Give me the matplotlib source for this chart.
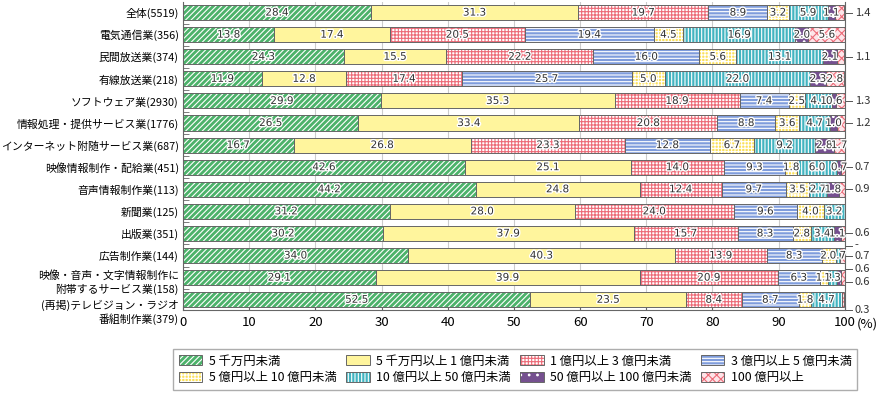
import numpy as np
import matplotlib.pyplot as plt
import matplotlib.patheffects as pe
import matplotlib.transforms as mtransforms
from matplotlib.patches import Patch

plt.rcParams['font.family'] = ['Noto Sans CJK JP', 'DejaVu Sans']
plt.rcParams['hatch.linewidth'] = 0.8

categories = ['全体(5519)', '電気通信業(356)', '民間放送業(374)', '有線放送業(218)',
              'ソフトウェア業(2930)', '情報処理・提供サービス業(1776)',
              'インターネット附随サービス業(687)', '映像情報制作・配給業(451)',
              '音声情報制作業(113)', '新聞業(125)', '出版業(351)', '広告制作業(144)',
              '映像・音声・文字情報制作に\n附帯するサービス業(158)',
              '(再掲)テレビジョン・ラジオ\n番組制作業(379)']

series_names = ['5 千万円未満', '5 千万円以上 1 億円未満', '1 億円以上 3 億円未満', '3 億円以上 5 億円未満',
                '5 億円以上 10 億円未満', '10 億円以上 50 億円未満', '50 億円以上 100 億円未満', '100 億円以上']

lt_05 = [28.4, 13.8, 24.3, 11.9, 29.9, 26.5, 16.7, 42.6, 44.2, 31.2, 30.2, 34.0, 29.1, 52.5]
b05_1 = [31.3, 17.4, 15.5, 12.8, 35.3, 33.4, 26.8, 25.1, 24.8, 28.0, 37.9, 40.3, 39.9, 23.5]
b1_3 = [19.7, 20.5, 22.2, 17.4, 18.9, 20.8, 23.3, 14.0, 12.4, 24.0, 15.7, 13.9, 20.9, 8.4]
b3_5 = [8.9, 19.4, 16.0, 25.7, 7.4, 8.8, 12.8, 9.3, 9.7, 9.6, 8.3, 8.3, 6.3, 8.7]
b5_10 = [3.2, 4.5, 5.6, 5.0, 2.5, 3.6, 6.7, 1.8, 3.5, 4.0, 2.8, 2.1, 1.3, 1.8]
b10_50 = [5.9, 16.9, 13.1, 22.0, 4.1, 4.7, 9.2, 6.0, 2.7, 3.2, 3.4, 0.7, 1.3, 4.7]
b50_100 = [1.1, 2.0, 2.1, 2.3, 0.6, 1.0, 2.8, 0.7, 1.8, 0.0, 1.1, 0.0, 0.6, 0.0]
ge_100 = [1.4, 5.6, 1.1, 2.8, 1.3, 1.2, 1.7, 0.7, 0.9, 0.0, 0.6, 0.7, 0.6, 0.3]

series = [lt_05, b05_1, b1_3, b3_5, b5_10, b10_50, b50_100, ge_100]

# (face, hatch colour, hatch)
styles = [('#4cb26a', 'white', '//////'),
          ('#fff59d', '#fff59d', None),
          ('white', '#ec6b78', '+++++'),
          ('#7f9cdc', 'white', '-----'),
          ('#fbe05a', 'white', '+++++'),
          ('#43b4c0', 'white', '|||||'),
          ('#75508f', 'white', '..'),
          ('#fde4e8', '#ec6b78', 'xxxx')]

fig = plt.figure(figsize=(8.8, 3.93), dpi=100)
ax = fig.add_axes([0.208, 0.211, 0.752, 0.784])

n = len(categories)
y = np.arange(n)
h = 0.68
left = np.zeros(n)
lefts = []
for vals, (fc, hc, hatch) in zip(series, styles):
    vals = np.array(vals)
    ax.barh(y, vals, left=left, height=h, color=fc, edgecolor=hc, hatch=hatch, linewidth=0, zorder=2)
    ax.barh(y, vals, left=left, height=h, facecolor='none', edgecolor='#666666', linewidth=0.7, zorder=3)
    lefts.append(left.copy())
    left += vals

halo = [pe.withStroke(linewidth=2, foreground='white')]
num_font = ['Liberation Sans Narrow', 'DejaVu Sans']

# inside labels
for k, vals in enumerate(series):
    for i, v in enumerate(vals):
        if v <= 0:
            continue
        if k == 7 and v < 1.5:
            continue
        if k == 6 and i == 12:
            continue
        ax.text(lefts[k][i] + v / 2, i, f'{v:.1f}', ha='center', va='center', fontsize=7.5,
                color='#333333', path_effects=halo, zorder=4, family=num_font)

# outside labels for the thinnest segments
def side_label(i, txt, dy):
    ax.plot([100, 101.1], [i + dy, i + dy], color='#555555', lw=0.7, clip_on=False)
    ax.text(101.5, i + dy, txt, ha='left', va='center', fontsize=8, color='#333333')

for i, v in enumerate(ge_100):
    if 0 < v < 1.5:
        dy = 0.0
        if i == 12:
            dy = 0.2
        if i == n - 1:
            dy = 0.45
        side_label(i, f'{v:.1f}', dy)
side_label(12, f'{b50_100[12]:.1f}', -0.4)
side_label(11, '-', -0.45)

ax.set_xlim(0, 100)
ax.set_ylim(n - 0.53, -0.48)
ax.set_yticks(y)
ax.set_yticklabels(categories, fontsize=7.8, linespacing=1.3)
ax.set_yticks(np.arange(n - 1) + 0.5, minor=True)
ax.tick_params(axis='y', which='major', length=0, pad=3)
ax.tick_params(axis='y', which='minor', length=4, direction='in', color='#666666')
# two-line labels sit a little lower than their bars
for lab, dpx in zip(ax.get_yticklabels()[-2:], [2.5, 10]):
    lab.set_transform(lab.get_transform() + mtransforms.ScaledTranslation(0, -dpx / 100, fig.dpi_scale_trans))

ax.set_xticks(np.arange(0, 101, 10))
ax.set_xticklabels([str(v) for v in range(0, 101, 10)], fontsize=9.5)
ax.tick_params(axis='x', length=3, direction='in', color='#666666', pad=4)
ax.grid(axis='x', color='#cccccc', lw=0.8, zorder=0)
ax.set_axisbelow(True)
ax.spines['top'].set_visible(False)
for s in ['left', 'bottom', 'right']:
    ax.spines[s].set_color('#666666')
    ax.spines[s].set_linewidth(0.8)

ax.annotate('(%)', xy=(100, 0), xycoords=ax.get_xaxis_transform(), xytext=(8.5, -10),
            textcoords='offset points', ha='left', va='center', fontsize=9.5, annotation_clip=False)

handles = []
for fc, hc, hatch in styles:
    fill = Patch(facecolor=fc, edgecolor=hc, hatch=hatch, linewidth=0)
    edge = Patch(facecolor='none', edgecolor='#666666', linewidth=0.7)
    handles.append((fill, edge))
order = [0, 4, 1, 5, 2, 6, 3, 7]
leg = fig.legend([handles[j] for j in order], [series_names[j] for j in order], ncol=4,
                 loc='lower left', bbox_to_anchor=(0.197, 0.008, 0.777, 0.11),
                 bbox_transform=fig.transFigure, mode='expand', fontsize=8.9,
                 frameon=True, fancybox=False, edgecolor='#999999', handlelength=1.9,
                 handleheight=0.9, borderaxespad=0, labelspacing=0.3, handletextpad=0.5,
                 borderpad=0.45)
leg.get_frame().set_linewidth(1.0)

fig.savefig('out.png', dpi=100)
